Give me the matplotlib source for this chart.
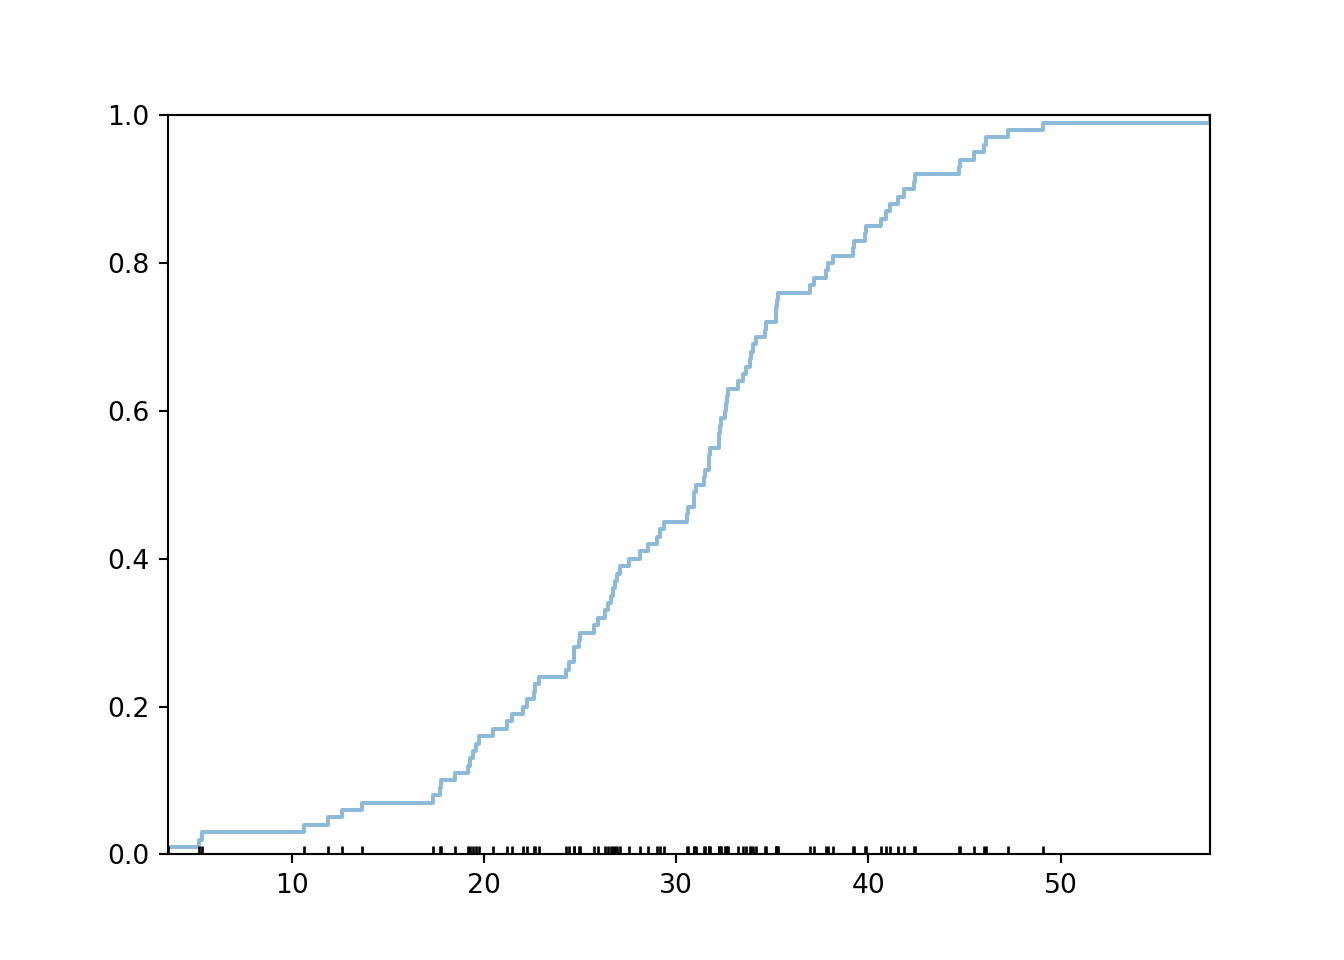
import matplotlib
matplotlib.use('Agg')
import matplotlib.pyplot as plt
import numpy as np

values = [
    3.55, 5.15, 5.30, 10.62, 11.89, 12.62, 13.66, 17.35, 17.70, 17.76,
    18.48, 19.17, 19.29, 19.43, 19.57, 19.71, 20.47, 21.20, 21.43, 22.00,
    22.21, 22.62, 22.66, 22.86, 24.25, 24.41, 24.66, 24.70, 24.96, 25.00,
    25.71, 25.93, 26.28, 26.42, 26.58, 26.71, 26.80, 26.89, 27.06, 27.55,
    28.10, 28.55, 29.00, 29.14, 29.35, 30.56, 30.60, 30.90, 30.93, 31.01,
    31.46, 31.50, 31.68, 31.71, 31.74, 32.20, 32.24, 32.28, 32.32, 32.54,
    32.58, 32.66, 32.70, 33.20, 33.47, 33.65, 33.86, 33.90, 34.00, 34.17,
    34.60, 34.69, 35.17, 35.21, 35.24, 35.30, 36.94, 37.17, 37.81, 37.89,
    38.16, 39.21, 39.25, 39.82, 39.86, 40.67, 40.90, 41.11, 41.51, 41.85,
    42.39, 42.43, 44.73, 44.77, 45.47, 46.00, 46.14, 47.26, 49.08, 57.75,
]

x = np.sort(np.array(values))
n = len(x)
y = np.arange(1, n + 1) / n

plt.figure(figsize=(7, 5), dpi=192)
# empirical cdf
plt.step(x, y, where='post', alpha=0.5)
# rug
plt.plot(x, np.zeros_like(x), '|', color='k')

plt.xlim(x.min(), x.max())
plt.ylim(0, 1)

plt.savefig('out.png')
plt.close()
